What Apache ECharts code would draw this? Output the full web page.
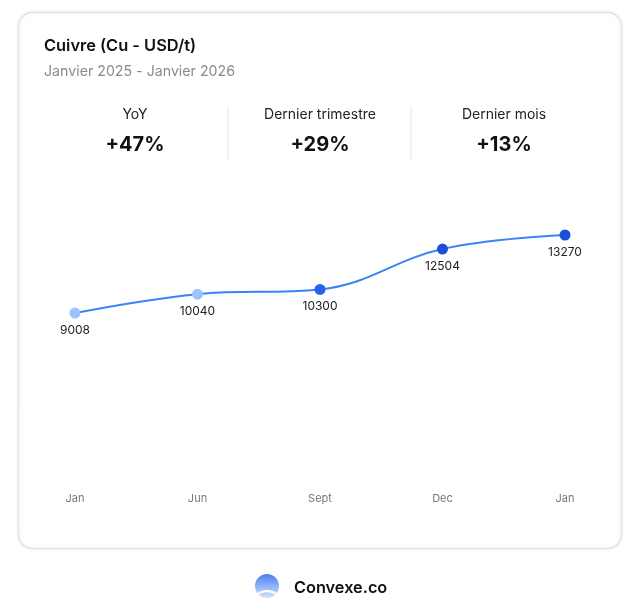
<!DOCTYPE html>
<html><head><meta charset="utf-8">
<script src="https://cdn.jsdelivr.net/npm/echarts@6/dist/echarts.min.js"></script>
<style>html,body{margin:0;padding:0;background:#fff}#c{width:640px;height:614px}</style>
</head><body><div id="c"></div>
<script>
const categories = ['Jan', 'Jun', 'Sept', 'Dec', 'Jan'];
const prices = [9008, 10040, 10300, 12504, 13270];
const pointColors = ['#9cc3fb', '#9cc3fb', '#2563eb', '#1d4ed8', '#1d4ed8'];
const statLabels = ['YoY', 'Dernier trimestre', 'Dernier mois'];
const statValues = ['+47%', '+29%', '+13%'];
const statCenters = [135, 320, 504];

const FONT = 'Inter, "Noto Sans", sans-serif';
const chart = echarts.init(document.getElementById('c'), null, {renderer: 'canvas'});

const graphics = [
  {type: 'rect', z: -10, shape: {x: 18.5, y: 12.5, width: 603, height: 536, r: 14},
   style: {fill: '#fff', stroke: '#e3e3e3', lineWidth: 1.5, shadowBlur: 6, shadowColor: 'rgba(0,0,0,0.06)'}},
  {type: 'text', x: 44, y: 46, style: {text: 'Cuivre (Cu - USD/t)', font: '600 16.4px ' + FONT, fill: '#111', verticalAlign: 'middle'}},
  {type: 'text', x: 44, y: 72, style: {text: 'Janvier 2025 - Janvier 2026', font: '400 14.2px ' + FONT, fill: '#8a8a8a', verticalAlign: 'middle'}},
  {type: 'line', shape: {x1: 228, y1: 106, x2: 228, y2: 160}, style: {stroke: '#e6e6e6', lineWidth: 1}},
  {type: 'line', shape: {x1: 411, y1: 106, x2: 411, y2: 160}, style: {stroke: '#e6e6e6', lineWidth: 1}},
  {type: 'circle', shape: {cx: 267, cy: 586, r: 12},
   style: {fill: new echarts.graphic.LinearGradient(0, 0, 0, 1, [{offset: 0, color: '#4a7ff0'}, {offset: 0.7, color: '#a9c6fa'}, {offset: 1, color: '#d6e4fd'}])}},
  {type: 'polyline', shape: {points: [[257, 594.5], [261, 592.2], [267, 591.2], [273, 592.2], [277, 594.5]], smooth: 0.5},
   style: {stroke: '#fff', lineWidth: 2.2, fill: null}},
  {type: 'text', x: 294, y: 588, style: {text: 'Convexe.co', font: '600 16.3px ' + FONT, fill: '#111', verticalAlign: 'middle'}}
];
statLabels.forEach((l, i) => {
  graphics.push({type: 'text', x: statCenters[i], y: 115, style: {text: l, font: '400 14px ' + FONT, fill: '#222', align: 'center', verticalAlign: 'middle'}});
  graphics.push({type: 'text', x: statCenters[i], y: 145, style: {text: statValues[i], font: '700 20px ' + FONT, fill: '#111', align: 'center', verticalAlign: 'middle'}});
});

chart.setOption({
  animation: false,
  graphic: graphics,
  grid: {left: 75, right: 75, top: 185, bottom: 136},
  xAxis: {type: 'category', data: categories, boundaryGap: false,
    axisLine: {show: false}, axisTick: {show: false}, splitLine: {show: false},
    axisLabel: {color: '#777', fontSize: 11, fontFamily: FONT, margin: 15}},
  yAxis: {type: 'value', min: 0, max: 16000, show: false, splitLine: {show: false}},
  series: [{
    type: 'line', smooth: 0.4, symbol: 'circle', symbolSize: 11,
    lineStyle: {color: '#3b82f6', width: 2},
    data: prices.map((v, i) => ({value: v, itemStyle: {color: pointColors[i]}})),
    label: {show: true, position: 'bottom', distance: 6, color: '#222', fontSize: 12, fontFamily: FONT}
  }]
});
</script></body></html>
